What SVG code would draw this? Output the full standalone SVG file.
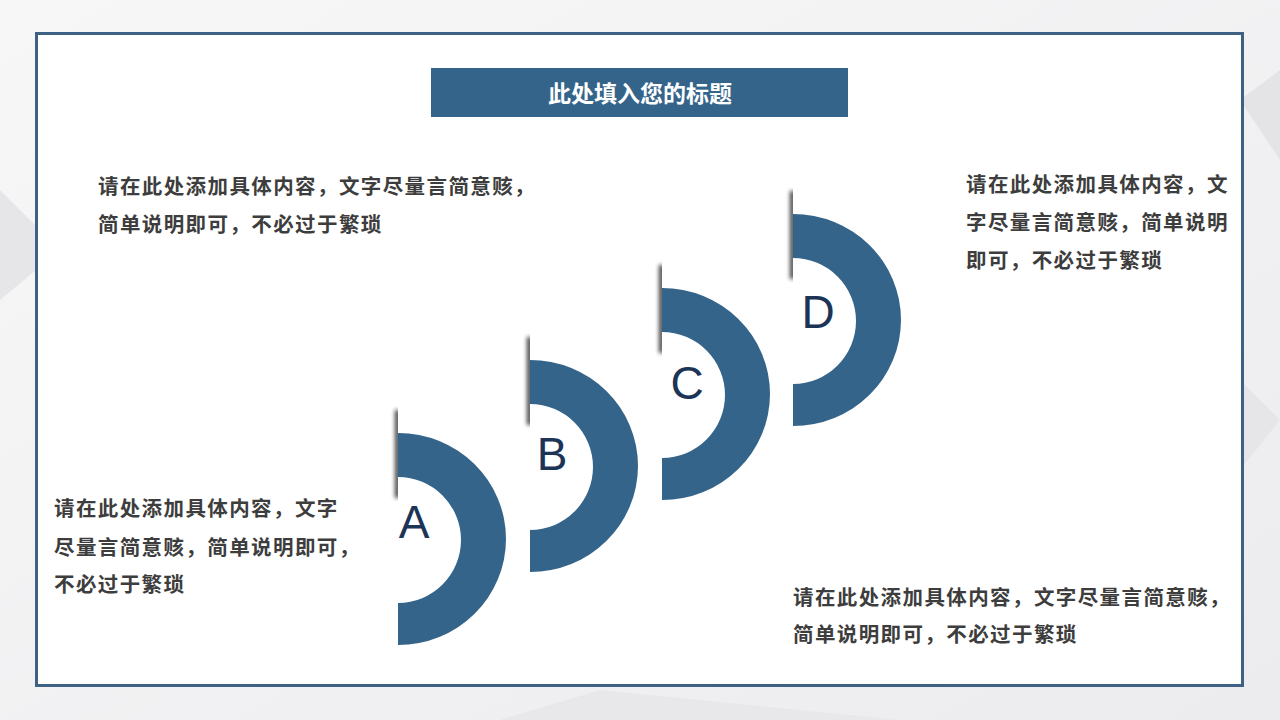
<svg xmlns="http://www.w3.org/2000/svg" width="1280" height="720" viewBox="0 0 1280 720">
<style>
.ring{fill:#35648b}
.letter{font-family:"Liberation Sans",Arial,sans-serif;font-size:46px;fill:#1c3557;text-anchor:middle}
.body{font-family:"Noto Sans CJK SC","Noto Sans",sans-serif;font-size:20.5px;font-weight:bold;fill:#3d3d3d;letter-spacing:1.4px}
.title{font-family:"Noto Sans CJK SC","Noto Sans",sans-serif;font-size:23px;font-weight:bold;fill:#ffffff;text-anchor:middle}
</style>
<defs>
<filter id="blur" x="-2" y="-1" width="5" height="3"><feGaussianBlur stdDeviation="2.2"/></filter>
<linearGradient id="bg" x1="0" y1="0" x2="1" y2="1">
<stop offset="0" stop-color="#f7f7f8"/><stop offset="1" stop-color="#ececee"/>
</linearGradient>
</defs>
<rect x="0" y="0" width="1280" height="720" fill="url(#bg)"/>
<polygon points="0,190 60,250 0,300" fill="#e6e6e8"/>
<polygon points="1240,100 1280,70 1280,160" fill="#e4e4e6"/>
<polygon points="1240,380 1280,420 1240,470" fill="#e6e6e8"/>
<polygon points="600,690 900,720 500,720" fill="#e8e8ea"/>
<rect x="36.5" y="33.5" width="1206" height="652" fill="#ffffff" stroke="#3d6284" stroke-width="3"/>
<g id="title">
<rect x="431" y="68" width="417" height="49" fill="#35648b"/>
<text class="title" x="640" y="102">此处填入您的标题</text>
</g>
<g id="shadows">
<clipPath id="cA"><rect x="380" y="390" width="18" height="130"/></clipPath>
<clipPath id="cB"><rect x="512" y="317" width="18" height="130"/></clipPath>
<clipPath id="cC"><rect x="644" y="245" width="18" height="130"/></clipPath>
<clipPath id="cD"><rect x="775" y="171" width="18" height="130"/></clipPath>
<rect x="395" y="410" width="5" height="88" fill="#000" opacity="0.75" filter="url(#blur)" clip-path="url(#cA)"/>
<rect x="527" y="337" width="5" height="88" fill="#000" opacity="0.75" filter="url(#blur)" clip-path="url(#cB)"/>
<rect x="659" y="265" width="5" height="88" fill="#000" opacity="0.75" filter="url(#blur)" clip-path="url(#cC)"/>
<rect x="790" y="191" width="5" height="88" fill="#000" opacity="0.75" filter="url(#blur)" clip-path="url(#cD)"/>
</g>
<g id="nodeA">
<path class="ring" d="M398,433 A108,106 0 0 1 398,645 L398,603 A63,63 0 0 0 398,477 Z"/>
<text class="letter" x="414" y="538">A</text>
</g>
<g id="nodeB">
<path class="ring" d="M530,360 A108,106 0 0 1 530,572 L530,530 A63,63 0 0 0 530,404 Z"/>
<text class="letter" x="552" y="470">B</text>
</g>
<g id="nodeC">
<path class="ring" d="M662,288 A108,106 0 0 1 662,500 L662,458 A63,63 0 0 0 662,332 Z"/>
<text class="letter" x="687" y="399">C</text>
</g>
<g id="nodeD">
<path class="ring" d="M793,214 A108,106 0 0 1 793,426 L793,384 A63,63 0 0 0 793,258 Z"/>
<text class="letter" x="818" y="328">D</text>
</g>
<g id="text1">
<text class="body" x="98" y="194">请在此处添加具体内容，文字尽量言简意赅，</text>
<text class="body" x="98" y="232">简单说明即可，不必过于繁琐</text>
</g>
<g id="text2">
<text class="body" x="966" y="192">请在此处添加具体内容，文</text>
<text class="body" x="966" y="230">字尽量言简意赅，简单说明</text>
<text class="body" x="966" y="268">即可，不必过于繁琐</text>
</g>
<g id="text3">
<text class="body" x="54" y="516">请在此处添加具体内容，文字</text>
<text class="body" x="54" y="555">尽量言简意赅，简单说明即可，</text>
<text class="body" x="54" y="592">不必过于繁琐</text>
</g>
<g id="text4">
<text class="body" x="793" y="605">请在此处添加具体内容，文字尽量言简意赅，</text>
<text class="body" x="793" y="642">简单说明即可，不必过于繁琐</text>
</g>
<g id="connectors"></g>
</svg>
